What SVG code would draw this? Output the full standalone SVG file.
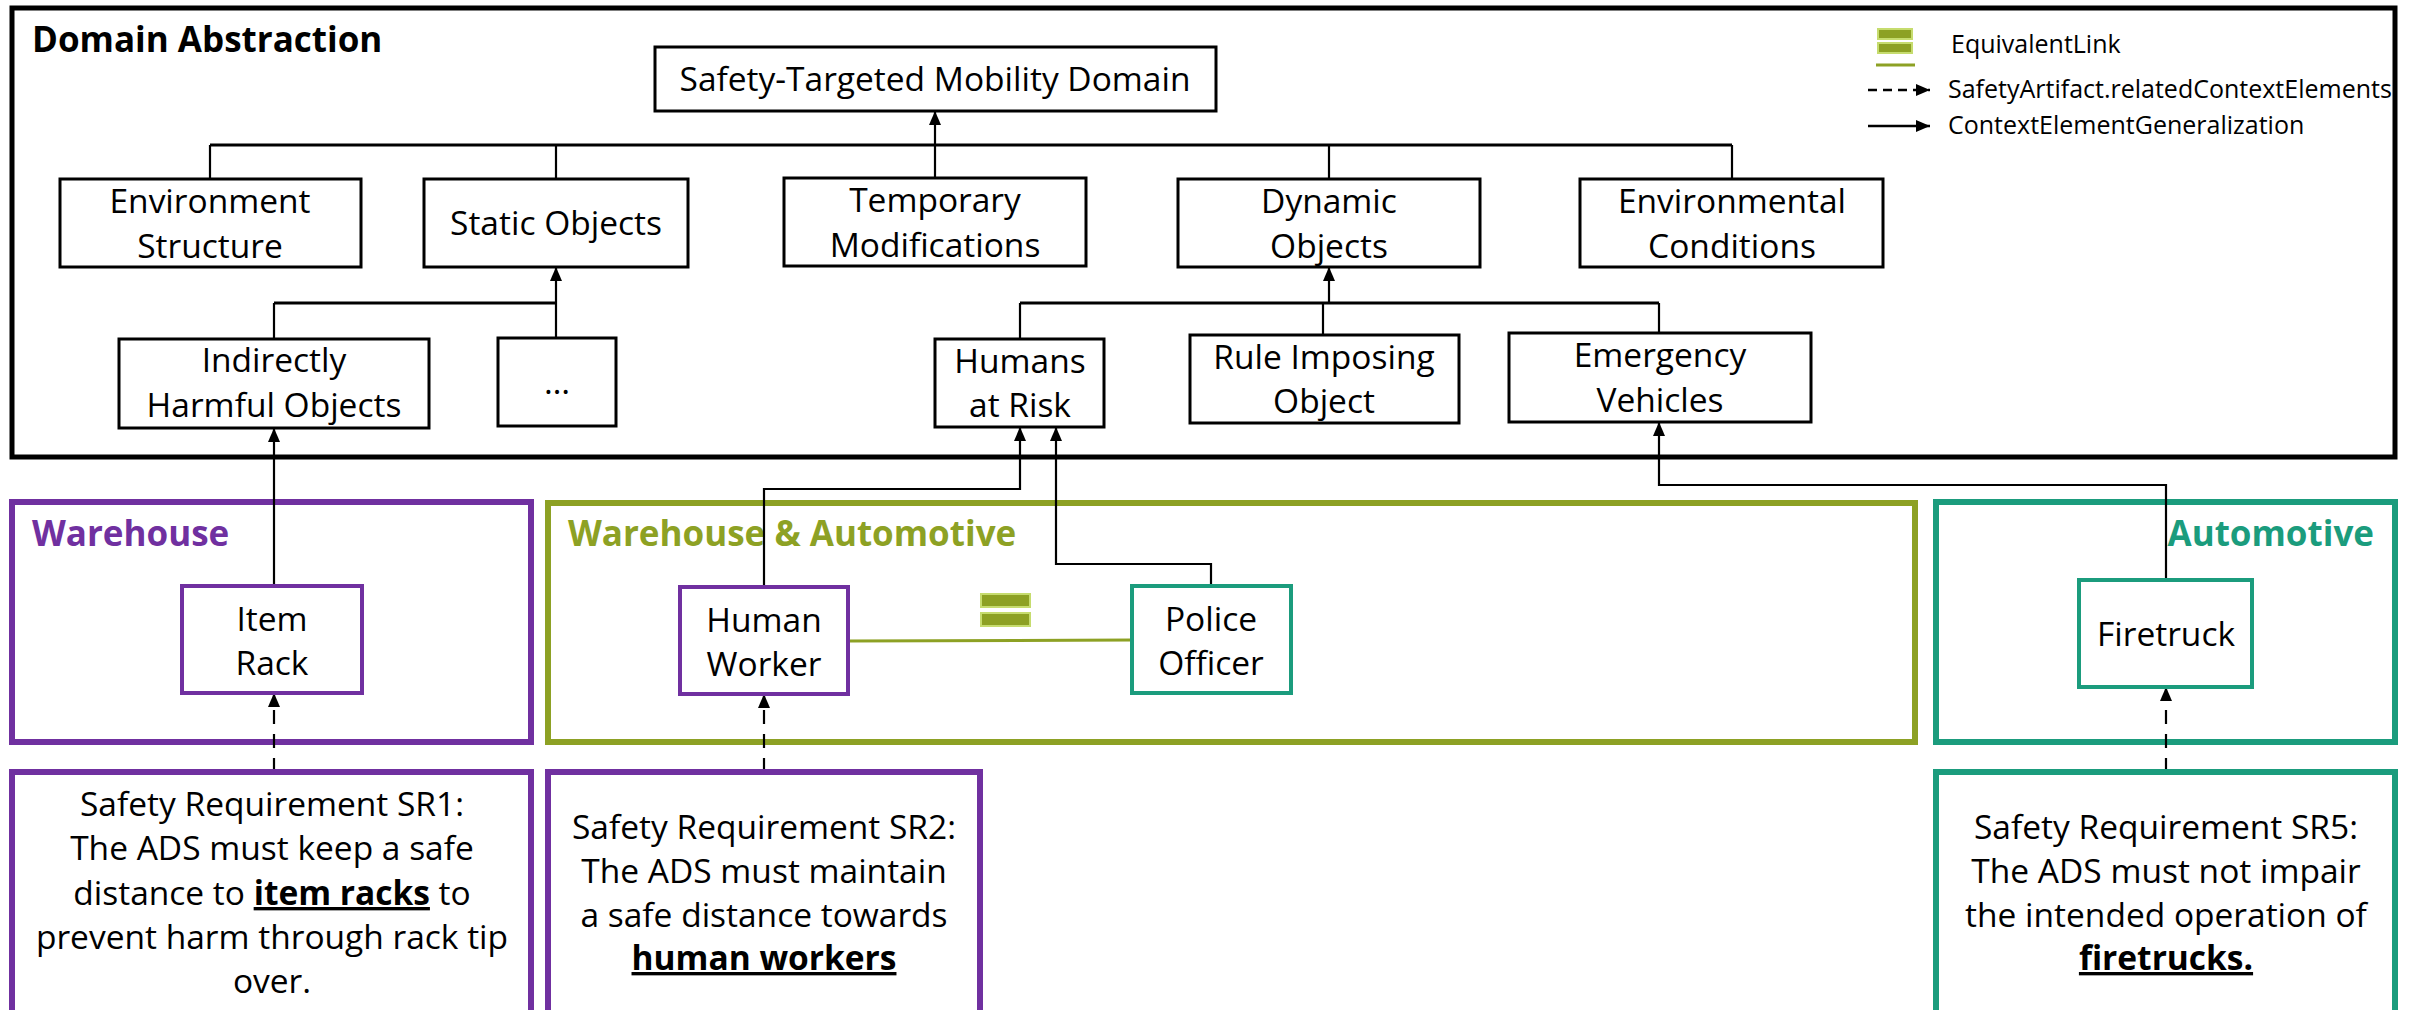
<svg xmlns="http://www.w3.org/2000/svg" width="2425" height="1010" viewBox="0 0 2425 1010">
  <style>
    text { font-family: "Open Sans", "Noto Sans", "Liberation Sans", sans-serif; fill: #000; }
    .lbl { font-size: 33.5px; text-anchor: middle; }
    .title { font-size: 35px; font-weight: bold; }
    .leg { font-size: 25px; }
    .box { fill: #fff; stroke: #000; stroke-width: 3; }
    .pbox { fill: #fff; stroke: #7030A0; stroke-width: 4; }
    .tbox { fill: #fff; stroke: #1B9C7D; stroke-width: 4; }
    .grp-p { fill: none; stroke: #7030A0; stroke-width: 6; }
    .grp-o { fill: none; stroke: #8DA124; stroke-width: 6; }
    .grp-t { fill: none; stroke: #1B9C7D; stroke-width: 6; }
    .gen { fill: none; stroke: #000; stroke-width: 2.2; }
    .bus { fill: none; stroke: #000; stroke-width: 3; }
    .rel { fill: none; stroke: #000; stroke-width: 2.2; stroke-dasharray: 14 10; }
    .eq { fill: none; stroke: #8DA124; stroke-width: 3; }
    .bar { fill: #8DA124; stroke: #C6DC6E; stroke-width: 2; }
    .em { font-weight: bold; text-decoration: underline; }
  </style>
  <defs>
    <marker id="ah" viewBox="0 0 14 12" refX="14" refY="6" markerWidth="14" markerHeight="12" orient="auto" markerUnits="userSpaceOnUse">
      <path d="M0,0 L14,6 L0,12 z" fill="#000"/>
    </marker>
  </defs>

  <!-- frame of the abstract domain model -->
  <rect x="12" y="8" width="2383" height="449" fill="none" stroke="#000" stroke-width="5"/>
  <text class="title" x="32" y="52">Domain Abstraction</text>

  <!-- legend -->
  <g id="legend">
    <rect class="bar" x="1878" y="29" width="34" height="10"/>
    <rect class="bar" x="1878" y="43" width="34" height="10"/>
    <line x1="1876" y1="65" x2="1915" y2="65" stroke="#8DA124" stroke-width="3"/>
    <text class="leg" x="1951" y="53">EquivalentLink</text>
    <line x1="1868" y1="90" x2="1930" y2="90" stroke="#000" stroke-width="2.5" stroke-dasharray="9 6" marker-end="url(#ah)"/>
    <text class="leg" x="1948" y="98">SafetyArtifact.relatedContextElements</text>
    <line x1="1868" y1="126" x2="1930" y2="126" stroke="#000" stroke-width="2.5" marker-end="url(#ah)"/>
    <text class="leg" x="1948" y="134">ContextElementGeneralization</text>
  </g>

  <!-- context groups -->
  <g id="grp-warehouse">
    <rect class="grp-p" x="12" y="502" width="519" height="240"/>
    <text class="title" x="32" y="546" style="fill:#7030A0">Warehouse</text>
  </g>
  <g id="grp-both">
    <rect class="grp-o" x="548" y="503" width="1367" height="239"/>
    <text class="title" x="568" y="546" style="fill:#8DA124">Warehouse &amp; Automotive</text>
  </g>
  <g id="grp-automotive">
    <rect class="grp-t" x="1936" y="502" width="459" height="240"/>
    <text class="title" x="2374" y="546" style="fill:#1B9C7D; text-anchor:end">Automotive</text>
  </g>

  <!-- connectors -->
  <g id="connectors">
    <path class="gen" d="M935,145 L935,111" marker-end="url(#ah)"/>
    <path class="bus" d="M210,145 L1732,145"/>
    <path class="gen" d="M210,145 L210,179 M556,145 L556,179 M935,145 L935,178 M1329,145 L1329,179 M1732,145 L1732,179"/>

    <path class="gen" d="M556,303 L556,267" marker-end="url(#ah)"/>
    <path class="bus" d="M274,303 L556,303"/>
    <path class="gen" d="M274,303 L274,339 M556,303 L556,338"/>

    <path class="gen" d="M1329,303 L1329,267" marker-end="url(#ah)"/>
    <path class="bus" d="M1020,303 L1659,303"/>
    <path class="gen" d="M1020,303 L1020,339 M1323,303 L1323,335 M1659,303 L1659,333"/>

    <path class="gen" d="M274,586 L274,428" marker-end="url(#ah)"/>
    <path class="gen" d="M764,587 L764,489 L1020,489 L1020,427" marker-end="url(#ah)"/>
    <path class="gen" d="M1211,586 L1211,564 L1056,564 L1056,427" marker-end="url(#ah)"/>
    <path class="gen" d="M2166,580 L2166,485 L1659,485 L1659,422" marker-end="url(#ah)"/>

    <path class="rel" d="M274,772 L274,693" marker-end="url(#ah)"/>
    <path class="rel" d="M764,772 L764,694" marker-end="url(#ah)"/>
    <path class="rel" d="M2166,772 L2166,687" marker-end="url(#ah)"/>

    <line class="eq" x1="848" y1="641" x2="1132" y2="640"/>
    <rect class="bar" x="981" y="594" width="49" height="13"/>
    <rect class="bar" x="981" y="613" width="49" height="13"/>
  </g>

  <!-- abstract context elements -->
  <g id="n-domain">
    <rect class="box" x="655" y="47" width="561" height="64"/>
    <text class="lbl" x="935" y="91">Safety-Targeted Mobility Domain</text>
  </g>
  <g id="n-env-structure">
    <rect class="box" x="60" y="179" width="301" height="88"/>
    <text class="lbl" x="210" y="213">Environment</text>
    <text class="lbl" x="210" y="258">Structure</text>
  </g>
  <g id="n-static">
    <rect class="box" x="424" y="179" width="264" height="88"/>
    <text class="lbl" x="556" y="235">Static Objects</text>
  </g>
  <g id="n-temporary">
    <rect class="box" x="784" y="178" width="302" height="88"/>
    <text class="lbl" x="935" y="212">Temporary</text>
    <text class="lbl" x="935" y="257">Modifications</text>
  </g>
  <g id="n-dynamic">
    <rect class="box" x="1178" y="179" width="302" height="88"/>
    <text class="lbl" x="1329" y="213">Dynamic</text>
    <text class="lbl" x="1329" y="258">Objects</text>
  </g>
  <g id="n-env-conditions">
    <rect class="box" x="1580" y="179" width="303" height="88"/>
    <text class="lbl" x="1732" y="213">Environmental</text>
    <text class="lbl" x="1732" y="258">Conditions</text>
  </g>
  <g id="n-indirect">
    <rect class="box" x="119" y="339" width="310" height="89"/>
    <text class="lbl" x="274" y="372">Indirectly</text>
    <text class="lbl" x="274" y="417">Harmful Objects</text>
  </g>
  <g id="n-more">
    <rect class="box" x="498" y="338" width="118" height="88"/>
    <text class="lbl" x="557" y="394">…</text>
  </g>
  <g id="n-humans">
    <rect class="box" x="935" y="339" width="169" height="88"/>
    <text class="lbl" x="1020" y="373">Humans</text>
    <text class="lbl" x="1020" y="417">at Risk</text>
  </g>
  <g id="n-rule">
    <rect class="box" x="1190" y="335" width="269" height="88"/>
    <text class="lbl" x="1324" y="369">Rule Imposing</text>
    <text class="lbl" x="1324" y="413">Object</text>
  </g>
  <g id="n-emergency">
    <rect class="box" x="1509" y="333" width="302" height="89"/>
    <text class="lbl" x="1660" y="367">Emergency</text>
    <text class="lbl" x="1660" y="412">Vehicles</text>
  </g>

  <!-- concrete context elements -->
  <g id="n-item-rack">
    <rect class="pbox" x="182" y="586" width="180" height="107"/>
    <text class="lbl" x="272" y="631">Item</text>
    <text class="lbl" x="272" y="675">Rack</text>
  </g>
  <g id="n-human-worker">
    <rect class="pbox" x="680" y="587" width="168" height="107"/>
    <text class="lbl" x="764" y="632">Human</text>
    <text class="lbl" x="764" y="676">Worker</text>
  </g>
  <g id="n-police">
    <rect class="tbox" x="1132" y="586" width="159" height="107"/>
    <text class="lbl" x="1211" y="631">Police</text>
    <text class="lbl" x="1211" y="675">Officer</text>
  </g>
  <g id="n-firetruck">
    <rect class="tbox" x="2079" y="580" width="173" height="107"/>
    <text class="lbl" x="2166" y="646">Firetruck</text>
  </g>

  <!-- safety requirements -->
  <g id="n-sr1">
    <rect class="grp-p" x="12" y="772" width="519" height="250"/>
    <text class="lbl" x="272" y="816">Safety Requirement SR1:</text>
    <text class="lbl" x="272" y="860">The ADS must keep a safe</text>
    <text class="lbl" x="272" y="905">distance to <tspan class="em">item racks</tspan> to</text>
    <text class="lbl" x="272" y="949">prevent harm through rack tip</text>
    <text class="lbl" x="272" y="993">over.</text>
  </g>
  <g id="n-sr2">
    <rect class="grp-p" x="548" y="772" width="432" height="250"/>
    <text class="lbl" x="764" y="839">Safety Requirement SR2:</text>
    <text class="lbl" x="764" y="883">The ADS must maintain</text>
    <text class="lbl" x="764" y="927">a safe distance towards</text>
    <text class="lbl em" x="764" y="970">human workers</text>
  </g>
  <g id="n-sr5">
    <rect class="grp-t" x="1936" y="772" width="459" height="250"/>
    <text class="lbl" x="2166" y="839">Safety Requirement SR5:</text>
    <text class="lbl" x="2166" y="883">The ADS must not impair</text>
    <text class="lbl" x="2166" y="927">the intended operation of</text>
    <text class="lbl em" x="2166" y="970">firetrucks.</text>
  </g>
</svg>
